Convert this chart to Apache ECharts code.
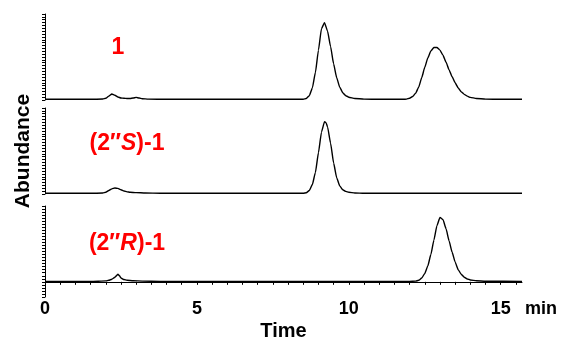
<!DOCTYPE html>
<html>
<head>
<meta charset="utf-8">
<script src="https://cdn.jsdelivr.net/npm/echarts@6/dist/echarts.min.js"></script>
<style>
  html, body { margin: 0; padding: 0; background: #fff; }
  #chart { width: 561px; height: 342px; }
</style>
</head>
<body>
<div id="chart"></div>
<script>
// chromatogram traces, [time (min), abundance]
const trace1 = [
  [0, 0.8], [1.5, 0.8], [1.9, 1.1], [2.0, 2], [2.1, 4.5], [2.2, 7], [2.3, 5.5], [2.4, 3.5], [2.5, 2.3],
  [2.6, 2], [2.7, 1.8], [2.8, 1.7], [2.9, 2.3], [3.0, 3], [3.1, 2.3], [3.2, 1.5], [3.4, 1.0], [4, 0.8],
  [8.0, 0.8], [8.5, 0.9], [8.6, 1.8], [8.7, 5], [8.8, 14], [8.9, 32], [9.0, 58], [9.1, 83], [9.2, 90],
  [9.3, 80], [9.4, 62], [9.5, 42], [9.6, 26], [9.7, 15], [9.8, 8.5], [9.9, 5], [10.0, 3.2], [10.2, 1.8],
  [10.5, 1.0], [11.0, 0.8], [11.8, 0.8], [11.9, 1], [12.0, 2], [12.1, 4], [12.2, 8], [12.3, 15], [12.4, 26],
  [12.5, 38], [12.6, 49], [12.7, 57], [12.8, 61], [12.9, 61], [13.0, 58], [13.1, 52], [13.2, 44],
  [13.3, 35], [13.4, 27], [13.5, 20], [13.6, 14], [13.7, 9.5], [13.8, 6.5], [13.9, 4.5], [14.0, 3],
  [14.2, 1.8], [14.5, 1.0], [15.0, 0.8], [15.7, 0.8]
]
const trace2 = [
  [0, 0.8], [1.5, 0.8], [1.9, 1.1], [2.0, 2], [2.1, 4], [2.2, 6], [2.3, 7], [2.4, 6.5], [2.5, 5],
  [2.6, 3.5], [2.7, 2.5], [2.8, 2], [3.0, 1.6], [3.3, 1.2], [3.8, 0.9], [8.0, 0.8], [8.5, 0.8],
  [8.6, 1.5], [8.7, 4], [8.8, 11], [8.9, 25], [9.0, 48], [9.1, 72], [9.2, 84], [9.25, 83], [9.3, 78],
  [9.4, 59], [9.5, 36], [9.6, 19], [9.7, 9.5], [9.8, 5], [9.9, 3], [10.0, 2], [10.2, 1.2], [10.5, 0.8],
  [15.7, 0.8]
]
const trace3 = [
  [0, 0.5], [1.5, 0.5], [2.0, 1.2], [2.1, 2], [2.2, 3.5], [2.3, 6], [2.4, 10], [2.45, 8], [2.5, 5],
  [2.6, 3], [2.7, 2], [2.9, 1.4], [3.2, 1.0], [3.8, 0.6], [12.0, 0.5], [12.2, 0.9], [12.3, 2],
  [12.4, 5], [12.5, 11], [12.6, 21], [12.7, 36], [12.8, 55], [12.9, 74], [13.0, 85], [13.1, 82],
  [13.2, 70], [13.3, 54], [13.4, 39], [13.5, 26], [13.6, 16], [13.7, 10], [13.8, 6], [13.9, 3.8],
  [14.0, 2.5], [14.2, 1.4], [14.5, 0.8], [15.7, 0.6]
]
const xTicks = [0, 5, 10, 15]

const chart = echarts.init(document.getElementById('chart'))

const font = "'Liberation Sans', Arial, sans-serif"
const tickStyle = { color: '#000', width: 1 }
const yBase = {
  type: 'value',
  max: 100,
  interval: 20,
  axisLine: { show: true, lineStyle: { color: '#000', width: 1 } },
  axisTick: { show: true, length: 3, lineStyle: tickStyle },
  minorTick: { show: true, splitNumber: 6, length: 3, lineStyle: tickStyle },
  axisLabel: { show: false },
  splitLine: { show: false }
}
const xBase = {
  type: 'value',
  min: 0,
  max: 15.7,
  interval: 0.5,
  show: false,
  splitLine: { show: false }
}
const lineSeries = (data, i) => ({
  type: 'line',
  xAxisIndex: i,
  yAxisIndex: i,
  data: data,
  showSymbol: false,
  symbol: 'none',
  smooth: 0.15,
  smoothMonotone: 'x',
  lineStyle: { color: '#000', width: 1.4 },
  animation: false
})
const labelFont = 'bold 23px ' + font
const richLabel = {
  a: { fill: '#ff0000', font: labelFont },
  b: { fill: '#ff0000', font: 'italic ' + labelFont }
}
const gridBase = { left: 45, right: 39, outerBoundsMode: 'none', containLabel: false }

chart.setOption({
  animation: false,
  grid: [
    Object.assign({ top: 14, height: 86 }, gridBase),
    Object.assign({ top: 108, height: 86 }, gridBase),
    Object.assign({ top: 206, height: 91 }, gridBase)
  ],
  xAxis: [
    Object.assign({}, xBase, { gridIndex: 0 }),
    Object.assign({}, xBase, { gridIndex: 1 }),
    Object.assign({}, xBase, {
      gridIndex: 2,
      show: true,
      axisLine: { show: true, lineStyle: { color: '#000', width: 1 } },
      axisTick: { show: true, length: 3, lineStyle: tickStyle },
      axisLabel: {
        color: '#000',
        fontFamily: font,
        fontWeight: 'bold',
        fontSize: 18,
        margin: 3,
        showMaxLabel: false,
        formatter: v => (xTicks.indexOf(v) >= 0 ? String(v) : '')
      },
      name: 'Time',
      nameLocation: 'middle',
      nameGap: 24,
      nameTextStyle: { color: '#000', fontFamily: font, fontWeight: 'bold', fontSize: 20 }
    })
  ],
  yAxis: [
    Object.assign({}, yBase, { gridIndex: 0, min: 0 }),
    Object.assign({}, yBase, { gridIndex: 1, min: 0 }),
    Object.assign({}, yBase, { gridIndex: 2, min: -20, minorTick: { show: true, splitNumber: 5, length: 3, lineStyle: tickStyle } })
  ],
  series: [lineSeries(trace1, 0), lineSeries(trace2, 1), lineSeries(trace3, 2)],
  graphic: [
    {
      type: 'text', x: 23, y: 151, rotation: Math.PI / 2,
      style: { text: 'Abundance', fill: '#000', font: 'bold 21px ' + font, align: 'center', verticalAlign: 'middle' }
    },
    {
      type: 'text', x: 525, y: 309,
      style: { text: 'min', fill: '#000', font: 'bold 18px ' + font, align: 'left', verticalAlign: 'middle' }
    },
    {
      type: 'text', x: 118, y: 48,
      style: { text: '1', fill: '#ff0000', font: labelFont, align: 'center', verticalAlign: 'middle' }
    },
    {
      type: 'text', x: 127, y: 144,
      style: { text: '{a|(2\u2033}{b|S}{a|)-1}', align: 'center', verticalAlign: 'middle', rich: richLabel }
    },
    {
      type: 'text', x: 127, y: 244,
      style: { text: '{a|(2\u2033}{b|R}{a|)-1}', align: 'center', verticalAlign: 'middle', rich: richLabel }
    }
  ]
})
</script>
</body>
</html>
